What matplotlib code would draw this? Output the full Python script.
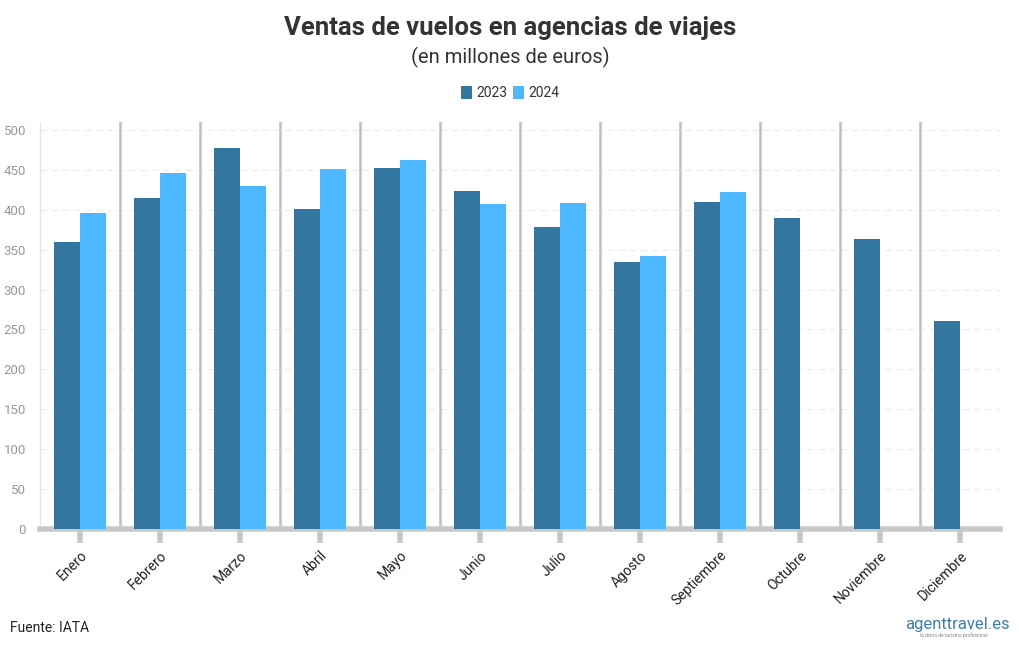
import matplotlib.pyplot as plt
import numpy as np
from matplotlib.patches import Patch

plt.rcParams['font.family'] = ['Roboto', 'DejaVu Sans']

# datos (millones de euros)
meses = ['Enero', 'Febrero', 'Marzo', 'Abril', 'Mayo', 'Junio', 'Julio',
         'Agosto', 'Septiembre', 'Octubre', 'Noviembre', 'Diciembre']
v2023 = [360, 415, 478, 401, 452, 424, 379, 335, 410, 390, 363, 261]
v2024 = [396, 446, 430, 451, 462, 407, 409, 342, 422]
yticks = [0, 50, 100, 150, 200, 250, 300, 350, 400, 450, 500]

c23 = '#33769f'
c24 = '#4db8ff'

fig = plt.figure(figsize=(10.2, 6.5), dpi=100)
ax = fig.add_axes([40/1020, 121/650, 960/1020, 407/650])

x = np.arange(len(meses))
w = 0.325
ax.bar(x - w/2, v2023, w, color=c23, zorder=3)
ax.bar(np.arange(len(v2024)) + w/2, v2024, w, color=c24, zorder=3)

ax.set_xlim(-0.5, len(meses) - 0.5)
ax.set_ylim(0, 510)
ax.set_yticks(yticks)
ax.set_yticklabels([str(t) for t in yticks], color='#999999', fontsize=9.5)
ax.set_xticks(x)
ax.set_xticklabels(meses, rotation=45, ha='right', rotation_mode='anchor',
                   fontsize=10, color='#222222')
ax.tick_params(axis='y', length=0, pad=10)
ax.tick_params(axis='x', length=10, width=4, color='#c8c8c8', pad=4)

for t in yticks[1:]:
    ax.axhline(t, color='#ececec', lw=0.8, ls=(0, (6, 4)), zorder=1)
for sep in x[:-1] + 0.5:
    ax.axvline(sep, color='#c0c0c0', lw=1.8, zorder=2)

for s in ['top', 'right']:
    ax.spines[s].set_visible(False)
ax.spines['left'].set_color('#e6e6e6')
ax.spines['left'].set_linewidth(1)
ax.spines['bottom'].set_color('#c8c8c8')
ax.spines['bottom'].set_linewidth(4)

fig.text(0.5, 1 - 28/650, 'Ventas de vuelos en agencias de viajes', ha='center',
         va='center', fontsize=18.5, fontweight='bold', color='#333333')
fig.text(0.5, 1 - 57/650, '(en millones de euros)', ha='center', va='center',
         fontsize=14.5, color='#333333')

handles = [Patch(facecolor=c23, label='2023'), Patch(facecolor=c24, label='2024')]
fig.legend(handles=handles, loc='center', bbox_to_anchor=(0.5, 1 - 93/650), ncol=2,
           frameon=False, fontsize=10, handlelength=0.8, handleheight=1.1,
           handletextpad=0.3, columnspacing=0.4, labelcolor='#333333')

fig.text(10/1020, 1 - 628/650, 'Fuente: IATA', ha='left', va='center',
         fontsize=10, color='#222222')
fig.text(1010/1020, 1 - 624/650, 'agenttravel.es', ha='right', va='center',
         fontsize=12, color='#3f7ea6')
fig.text(988/1020, 1 - 635/650, 'la diaria de turismo profesional', ha='right',
         va='center', fontsize=3.5, color='#888888')

fig.savefig('out.png', dpi=100)
